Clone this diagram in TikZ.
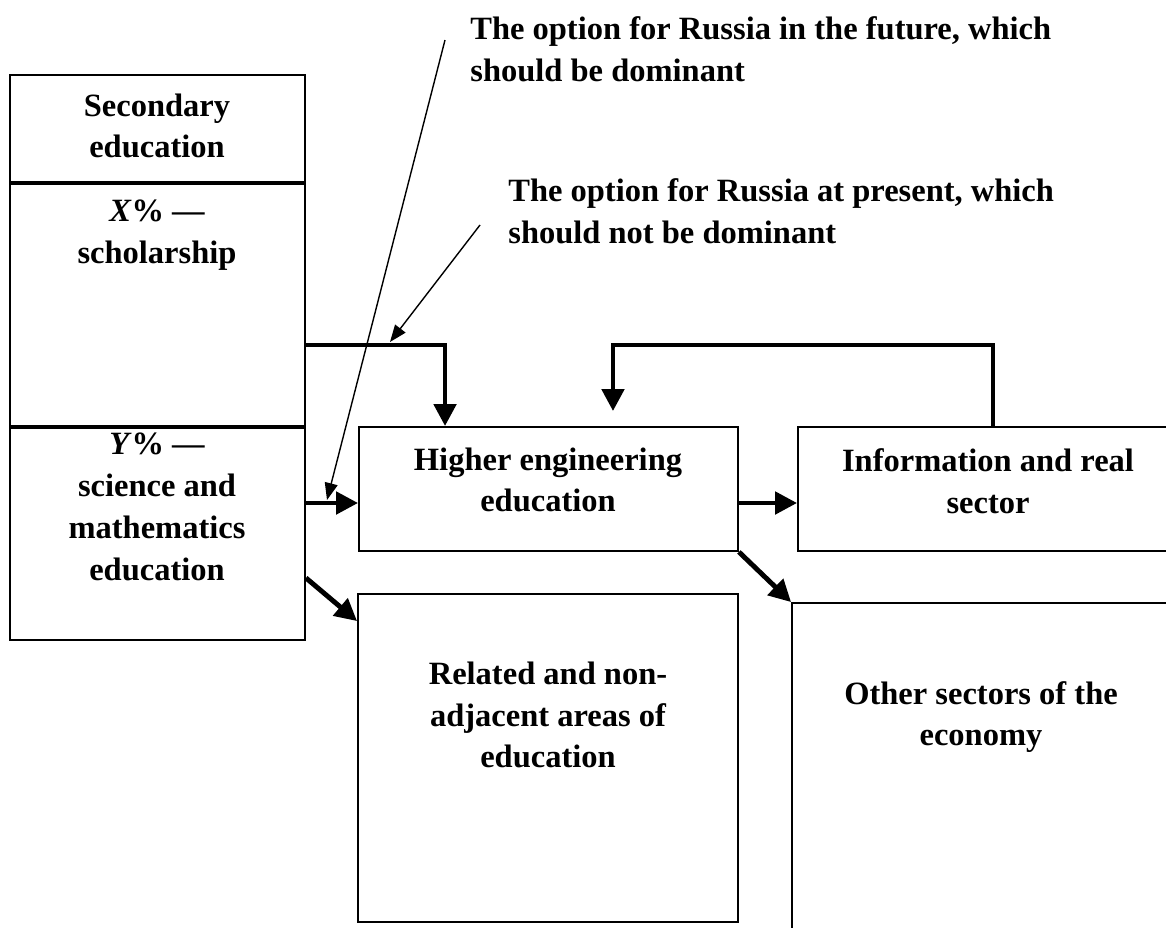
\documentclass[tikz,border=0pt]{standalone}
\usepackage{fontspec}
\setmainfont{Liberation Serif}
\usepackage{tikz}
\usetikzlibrary{arrows.meta}
\usetikzlibrary{calc}
\usetikzlibrary{positioning}

\begin{document}
\begin{tikzpicture}[x=0.02cm,y=-0.02cm,font=\fontsize{18.5}{23.8}\selectfont\bfseries]
	\tikzstyle{box}=[draw, line width=1.1pt, inner sep=0pt]
	\tikzstyle{txt}=[align=center, inner sep=0pt]
	\tikzstyle{note}=[align=left, inner sep=0pt]
	\tikzstyle{flow}=[line width=2.8pt, -{Triangle[length=0.44cm,width=0.44cm]}]
	\tikzstyle{hint}=[line width=0.8pt, -{Triangle[length=0.34cm,width=0.26cm]}]
	\clip (0,0) rectangle (1166,927);
	% boxes
	\node[box, minimum width=5.9cm, minimum height=11.3cm] 	(S) at (157.5,357.5) {};
	\node[box, minimum width=7.58cm, minimum height=2.48cm] 	(H) at (548.5,489) {};
	\node[box, minimum width=8.04cm, minimum height=2.48cm] 	(I) at (999,489) {};
	\node[box, minimum width=7.6cm, minimum height=6.56cm] 	(R) at (548,758) {};
	\node[box, minimum width=8.16cm, minimum height=7.14cm] 	(O) at (996,781.5) {};
	\draw[line width=2.8pt] (S.west |- 0,183) -- (S.east |- 0,183);
	\draw[line width=2.8pt] (S.west |- 0,427) -- (S.east |- 0,427);
	% texts
	\node[txt] (S1) at (157,126) {Secondary\\education};
	\node[txt] (S2) at (157,235) {\textit{X}\% —\\scholarship};
	\node[txt] (S3) at (157,507) {\textit{Y}\% —\\science and\\mathematics\\education};
	\node[txt] (H1) at (548,480) {Higher engineering\\education};
	\node[txt] (I1) at (988,481) {Information and real\\sector};
	\node[txt] (R1) at (548,715) {Related and non-\\adjacent areas of\\education};
	\node[txt] (O1) at (981,717) {Other sectors of the\\economy};
	\node[note, anchor=west] (Fu) at (470,49) {The option for Russia in the future, which\\should be dominant};
	\node[note, anchor=west] (Pr) at (508,211) {The option for Russia at present, which\\should not be dominant};
	% connectors
	\coordinate (F) at (800,345);
	\coordinate (T1) at (327,500);
	\coordinate (T2) at (390,342);
	\draw[flow] (S.east |- 0,345) -| ([xshift=-2.07cm]H.north);
	\draw[flow] ([yshift=-0.28cm]H.west -| S.east) -- ([yshift=-0.28cm]H.west);
	\draw[flow] ([yshift=-0.28cm]H.east) -- ([yshift=-0.28cm]I.west);
	\draw[flow] ([xshift=-0.12cm]I.north) |- (F) -| ([xshift=1.29cm,yshift=0.3cm]H.north);
	\draw[flow] ([yshift=1.26cm]S.south east) -- ([yshift=-0.56cm]R.north west);
	\draw[flow] (H.south east) -- (O.north west);
	\draw[hint] ([xshift=-0.5cm,yshift=0.18cm]Fu.west) -- (T1);
	\draw[hint] ([xshift=-0.56cm,yshift=-0.28cm]Pr.west) -- (T2);
\end{tikzpicture}
\end{document}
